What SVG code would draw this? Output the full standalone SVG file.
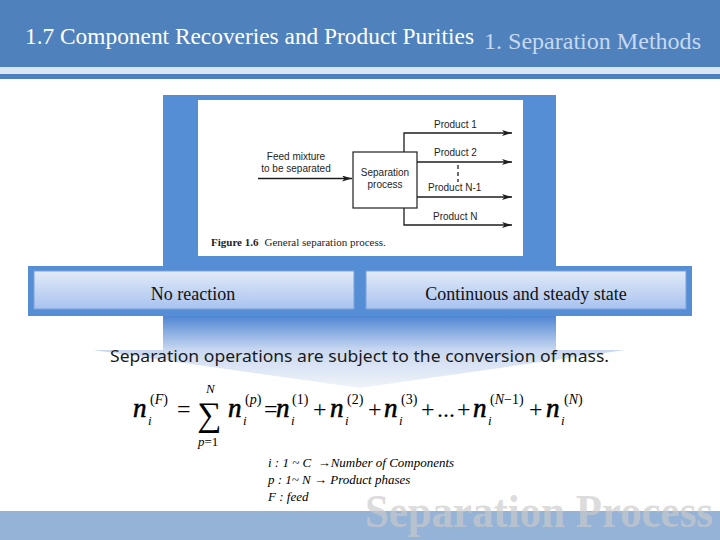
<svg xmlns="http://www.w3.org/2000/svg" width="720" height="540" viewBox="0 0 720 540">
<defs>
<style>
.hdr{font-family:"Liberation Serif","Times New Roman",serif;}
.fig{font-family:"Liberation Sans",Arial,sans-serif;font-size:10px;fill:#1e1e1e;}
.box{font-family:"Liberation Serif","Times New Roman",serif;font-size:18px;fill:#111;text-anchor:middle;}
.m{font-family:"Liberation Serif","Times New Roman",serif;fill:#000;}
.mi{font-style:italic;}
.nn{font-style:italic;font-size:27px;stroke:#000;stroke-width:0.6;}
.sb{font-style:italic;font-size:13px;}
.sp{font-size:14px;}
.op{font-size:24px;}
.leg{font-family:"Liberation Serif","Times New Roman",serif;font-style:italic;font-size:13px;fill:#000;}
.ln{stroke:#1e1e1e;stroke-width:1.3;fill:none;}
</style>
<linearGradient id="boxg" x1="0" y1="0" x2="0" y2="1">
<stop offset="0" stop-color="#e2eaf8"/>
<stop offset="1" stop-color="#a8c3ef"/>
</linearGradient>
<linearGradient id="arrg" x1="0" y1="316" x2="0" y2="388" gradientUnits="userSpaceOnUse">
<stop offset="0" stop-color="#4f86d3"/>
<stop offset="0.47" stop-color="#c9d8f0"/>
<stop offset="1" stop-color="#f0f4fa"/>
</linearGradient>
<marker id="ah" viewBox="0 0 10 6" refX="10" refY="3" markerWidth="10" markerHeight="6" markerUnits="userSpaceOnUse" orient="auto">
<path d="M0,0 L10,3 L0,6 L2.5,3 z" fill="#1e1e1e"/>
</marker>
</defs>
<rect width="720" height="540" fill="#ffffff"/>
<g id="header">
<rect x="0" y="0" width="720" height="67" fill="#4f81bd"/>
<rect x="0" y="67" width="720" height="7" fill="#dce6f2"/>
<rect x="0" y="74" width="720" height="5" fill="#4f81bd"/>
<text class="hdr" x="25" y="44" font-size="23" fill="#ffffff" textLength="449" lengthAdjust="spacingAndGlyphs">1.7 Component Recoveries and Product Purities</text>
<text class="hdr" x="484" y="49" font-size="24" fill="#c6d9f1" textLength="217" lengthAdjust="spacingAndGlyphs">1. Separation Methods</text>
</g>
<g id="frame">
<polygon points="163,316 556,316 556,350 625,350 360,388 93,350 163,350" fill="url(#arrg)"/>
<rect x="163" y="95" width="393" height="180" fill="#558ed5"/>
<rect x="28" y="266" width="664" height="50" fill="#558ed5"/>
<rect x="198" y="100" width="325" height="156" fill="#ffffff"/>
</g>
<g id="sep-process">
<rect x="353" y="152" width="64" height="56" fill="#ffffff" stroke="#1e1e1e" stroke-width="1.2"/>
<text class="fig" x="385" y="176" text-anchor="middle">Separation</text>
<text class="fig" x="385" y="188" text-anchor="middle">process</text>
</g>
<g id="feed">
<text class="fig" x="296" y="160" text-anchor="middle">Feed mixture</text>
<text class="fig" x="296" y="172" text-anchor="middle">to be separated</text>
</g>
<g id="product1"><text class="fig" x="434" y="128">Product 1</text></g>
<g id="product2"><text class="fig" x="434" y="156">Product 2</text></g>
<g id="productN1"><text class="fig" x="428" y="191">Product N-1</text></g>
<g id="productN"><text class="fig" x="433" y="220">Product N</text></g>
<g id="connectors">
<line class="ln" x1="258" y1="178.5" x2="352" y2="178.5" marker-end="url(#ah)"/>
<polyline class="ln" points="404,152 404,133 512,133" marker-end="url(#ah)"/>
<line class="ln" x1="417" y1="162" x2="512" y2="162" stroke-width="2" marker-end="url(#ah)"/>
<line class="ln" x1="458" y1="165" x2="458" y2="182" stroke-dasharray="4,3"/>
<line class="ln" x1="417" y1="197" x2="512" y2="197" marker-end="url(#ah)"/>
<polyline class="ln" points="404,208 404,225 512,225" marker-end="url(#ah)"/>
</g>
<g id="caption">
<text x="211" y="246" font-family="Liberation Serif,'Times New Roman',serif" font-size="11" fill="#222"><tspan font-weight="bold">Figure 1.6</tspan><tspan dx="6">General separation process.</tspan></text>
</g>
<g id="no-reaction">
<rect x="34" y="271" width="320" height="38" fill="url(#boxg)" stroke="#7ea2dc" stroke-width="1"/>
<text class="box" x="193" y="300">No reaction</text>
</g>
<g id="steady-state">
<rect x="366" y="271" width="320" height="38" fill="url(#boxg)" stroke="#7ea2dc" stroke-width="1"/>
<text class="box" x="526" y="300">Continuous and steady state</text>
</g>
<g id="statement">
<text x="110" y="362" font-family="'Noto Sans','DejaVu Sans',sans-serif" font-size="16" fill="#1a1a1a" textLength="499" lengthAdjust="spacingAndGlyphs">Separation operations are subject to the conversion of mass.</text>
</g>
<g id="formula" class="m">
<text x="133" y="417" class="nn">n</text>
<text x="148" y="425" class="sb">i</text>
<text x="150" y="404" class="sp">(<tspan class="mi">F</tspan>)</text>
<text x="177" y="417" class="op">=</text>
<text x="197" y="426" font-size="34">∑</text>
<text x="206" y="393" font-size="13" class="mi">N</text>
<text x="198" y="446" font-size="13"><tspan class="mi">p</tspan>=1</text>
<text x="228" y="417" class="nn">n</text>
<text x="243" y="425" class="sb">i</text>
<text x="245" y="404" class="sp">(<tspan class="mi">p</tspan>)</text>
<text x="264" y="417" class="op">=</text>
<text x="276" y="417" class="nn">n</text>
<text x="291" y="425" class="sb">i</text>
<text x="292" y="404" class="sp">(1)</text>
<text x="313" y="417" class="op">+</text>
<text x="330" y="417" class="nn">n</text>
<text x="345" y="425" class="sb">i</text>
<text x="347" y="404" class="sp">(2)</text>
<text x="368" y="417" class="op">+</text>
<text x="384" y="417" class="nn">n</text>
<text x="399" y="425" class="sb">i</text>
<text x="401" y="404" class="sp">(3)</text>
<text x="421" y="417" class="op">+</text>
<text x="437" y="417" class="op">...</text>
<text x="457" y="417" class="op">+</text>
<text x="473" y="417" class="nn">n</text>
<text x="488" y="425" class="sb">i</text>
<text x="490" y="404" class="sp">(<tspan class="mi">N</tspan>−1)</text>
<text x="529" y="417" class="op">+</text>
<text x="546" y="417" class="nn">n</text>
<text x="561" y="425" class="sb">i</text>
<text x="564" y="404" class="sp">(<tspan class="mi">N</tspan>)</text>
</g>
<g id="legend">
<text class="leg" x="268" y="467" xml:space="preserve">i : 1 ~ C  →Number of Components</text>
<text class="leg" x="268" y="484">p : 1~ N → Product phases</text>
<text class="leg" x="268" y="501">F : feed</text>
</g>
<g id="footer">
<rect x="0" y="511" width="720" height="29" fill="#95b3d7"/>
<text x="365" y="527" font-family="'Liberation Serif','Times New Roman',serif" font-weight="bold" font-size="46" fill="#cbcbcb" fill-opacity="0.67" textLength="348" lengthAdjust="spacingAndGlyphs">Separation Process</text>
</g>
</svg>
